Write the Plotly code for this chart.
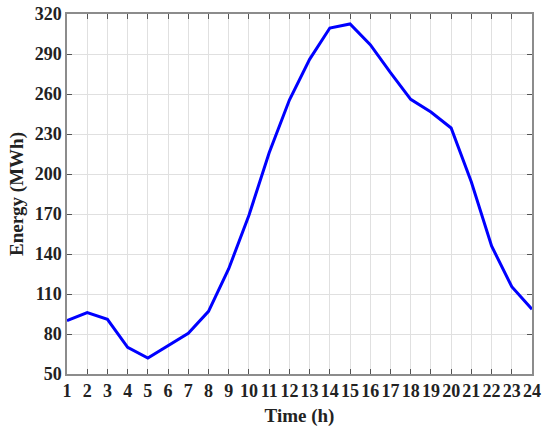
import plotly.graph_objects as go

hours = list(range(1, 25))
energy = [90, 96, 91, 70, 62, 71, 80.5, 97, 129, 169, 216, 255.5, 286, 309.5, 312.5, 297,
          276, 256, 246.5, 234.5, 194, 146, 115.5, 98.5]
x_ticks = list(range(1, 25))
y_ticks = list(range(50, 321, 30))

fig = go.Figure()
fig.add_trace(go.Scatter(x=hours, y=energy, mode="lines",
                         line=dict(color="#0000ff", width=3)))

font_family = "Liberation Serif, DejaVu Serif, serif"
axis_common = dict(
    showgrid=True, gridcolor="#e0e0e0", gridwidth=1,
    showline=True, linecolor="#8c8c8c", linewidth=1.5, mirror="ticks",
    ticks="inside", ticklen=5, tickcolor="#555555", tickwidth=1,
    zeroline=False, automargin=False,
    tickfont=dict(family=font_family, size=18, color="#222222"),
)

fig.update_layout(
    width=550, height=434,
    margin=dict(l=67, r=18, t=14, b=60),
    paper_bgcolor="white", plot_bgcolor="white",
    showlegend=False,
    xaxis=dict(range=[1, 24], tickvals=x_ticks, ticktext=[f"<b>{v}</b>" for v in x_ticks],
               title=dict(text="<b>Time (h)</b>", font=dict(family=font_family, size=19, color="#222222"), standoff=8),
               **axis_common),
    yaxis=dict(range=[50, 320], tickvals=y_ticks, ticktext=[f"<b>{v}</b>" for v in y_ticks],
               title=dict(text="<b>Energy (MWh)</b>", font=dict(family=font_family, size=19, color="#222222"), standoff=6),
               **axis_common),
)

fig.write_html("out.html", config={"displayModeBar": False},
               post_script="document.body.style.margin='0';")
